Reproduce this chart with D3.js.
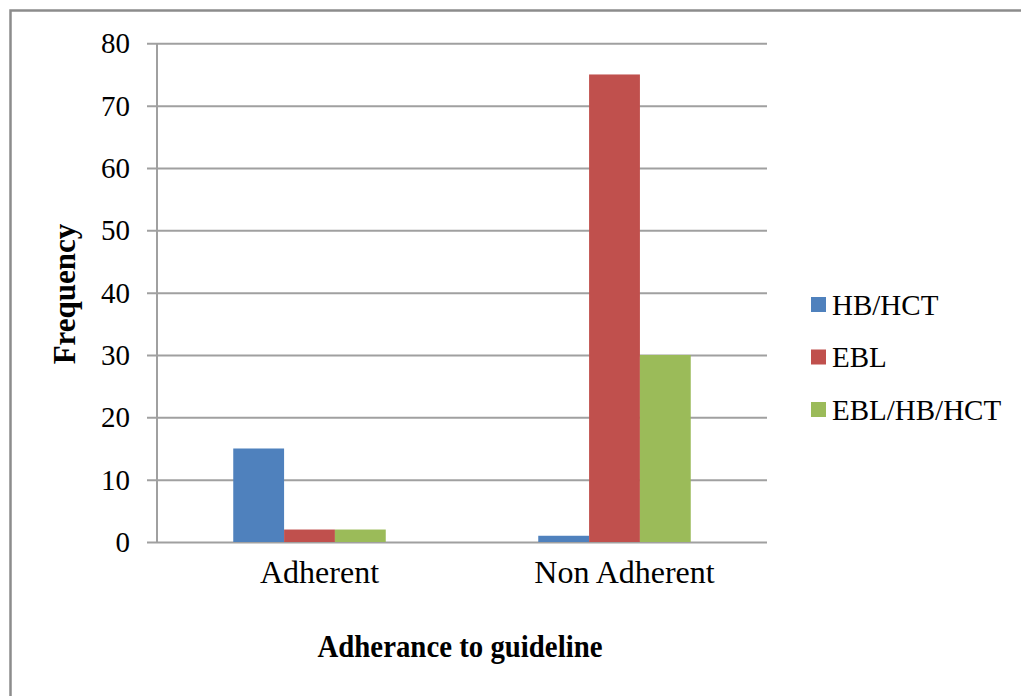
<!DOCTYPE html>
<html>
<head>
<meta charset="utf-8">
<script src="https://cdn.jsdelivr.net/npm/d3@7"></script>
<style>
  html, body { margin: 0; padding: 0; background: #fff; }
  svg { display: block; }
  text { font-family: "Liberation Serif", "Times New Roman", serif; fill: #000; }
</style>
</head>
<body>
<svg id="chart" width="1021" height="696"></svg>
<script>
// Frequency of each monitoring approach by adherence group
const categories = ["Adherent", "Non Adherent"];
const seriesNames = ["HB/HCT", "EBL", "EBL/HB/HCT"];
const hbHct = [15, 1];
const ebl = [2, 75];
const eblHbHct = [2, 30];
const yTicks = [0, 10, 20, 30, 40, 50, 60, 70, 80];
const seriesColors = ["#4F81BD", "#C0504D", "#9BBB59"];

const seriesValues = [hbHct, ebl, eblHbHct];
const rows = categories.map((c, i) => ({
  category: c,
  values: seriesNames.map((s, j) => ({ series: s, value: seriesValues[j][i] }))
}));

const serif = "'Liberation Serif', 'Times New Roman', serif";
const svg = d3.select("#chart");
const gridColor = "#a0a0a0";

// outer frame
svg.append("rect")
  .attr("x", 10.5).attr("y", 10.5)
  .attr("width", 1040).attr("height", 720)
  .attr("fill", "none")
  .attr("stroke", "#8c8c8c")
  .attr("stroke-width", 2.5);

const plot = { left: 157, right: 767, top: 43.3, bottom: 542 };

const x = d3.scaleBand().domain(categories).range([plot.left, plot.right]);
const xInner = d3.scaleBand().domain(seriesNames).range([0, x.bandwidth()]).paddingOuter(1.5);
const y = d3.scaleLinear().domain([0, 80]).range([plot.bottom, plot.top]);

// horizontal gridlines with tick marks and labels
const yAxis = d3.axisLeft(y).tickValues(yTicks).tickSize(-(plot.right - plot.left)).tickPadding(0);
const gy = svg.append("g").attr("transform", `translate(${plot.left},0)`).call(yAxis);
gy.select(".domain").remove();
gy.selectAll(".tick line")
  .attr("x1", -10)
  .attr("stroke", gridColor)
  .attr("stroke-width", 2);
gy.selectAll(".tick text")
  .attr("x", -27)
  .attr("dy", "0.33em")
  .attr("font-size", 29)
  .style("font-family", serif)
  .attr("fill", "#000");

// vertical axis line
svg.append("line")
  .attr("x1", plot.left).attr("x2", plot.left)
  .attr("y1", y(80)).attr("y2", y(0))
  .attr("stroke", gridColor).attr("stroke-width", 2);

// bars
const groups = svg.append("g").selectAll("g")
  .data(rows).join("g")
  .attr("transform", d => `translate(${x(d.category)},0)`);
groups.selectAll("rect")
  .data(d => d.values).join("rect")
  .attr("x", d => xInner(d.series))
  .attr("width", xInner.bandwidth())
  .attr("y", d => y(d.value))
  .attr("height", d => y(0) - y(d.value))
  .attr("fill", (d, i) => seriesColors[i]);

// category labels
const xAxis = d3.axisBottom(x).tickSize(0).tickPadding(0);
const gx = svg.append("g").attr("transform", `translate(0,${plot.bottom})`).call(xAxis);
gx.select(".domain").remove();
gx.selectAll(".tick text")
  .attr("y", 41)
  .attr("dy", 0)
  .attr("dx", 10)
  .attr("font-size", 32)
  .style("font-family", serif)
  .attr("fill", "#000");

// axis titles
svg.append("text")
  .attr("x", 460).attr("y", 657)
  .attr("text-anchor", "middle")
  .attr("font-size", 31)
  .attr("font-weight", "bold")
  .attr("textLength", 285)
  .attr("lengthAdjust", "spacingAndGlyphs")
  .style("font-family", serif)
  .text("Adherance to guideline");

svg.append("text")
  .attr("transform", "translate(75,294) rotate(-90)")
  .attr("text-anchor", "middle")
  .attr("font-size", 31)
  .attr("font-weight", "bold")
  .style("font-family", serif)
  .text("Frequency");

// legend
const legend = svg.append("g").attr("transform", "translate(811,297)");
const items = legend.selectAll("g")
  .data(seriesNames).join("g")
  .attr("transform", (d, i) => `translate(0,${i * 52.5})`);
items.append("rect")
  .attr("width", 15).attr("height", 15)
  .attr("fill", (d, i) => seriesColors[i]);
items.append("text")
  .attr("x", 21).attr("y", 17.5)
  .attr("font-size", 29)
  .style("font-family", serif)
  .text(d => d);
</script>
</body>
</html>
